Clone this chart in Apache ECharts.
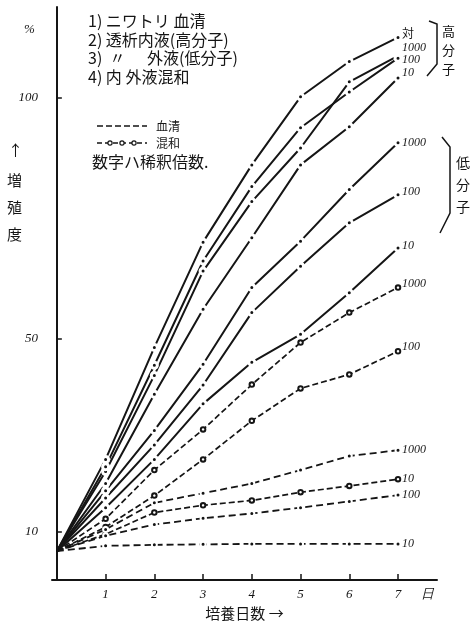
<!DOCTYPE html>
<html><head><meta charset="utf-8">
<script src="https://cdn.jsdelivr.net/npm/echarts@6/dist/echarts.min.js"></script>
<style>html,body{margin:0;padding:0;background:#fff}#c{width:473px;height:626px}</style>
</head><body><div id="c"></div>
<script>
// ---- data ----
const days = [0, 1, 2, 3, 4, 5, 6, 7];
const xTickDays = [1, 2, 3, 4, 5, 6, 7];
const dayUnit = '日';
const yTicks = [10, 50, 100];

// 透析内液 (高分子)
const highCtrl = [6, 25, 48.2, 70.0, 86.0, 100.1, 107.4, 112.4];
const high1000 = [6, 22.5, 42.4, 64.0, 78.4, 89.5, 103.2, 108.6];
const high100  = [6, 23.5, 44.5, 66.1, 81.5, 93.7, 101.1, 108.1];
const high10   = [6, 20, 38.5, 56.1, 70.9, 86.0, 93.9, 104.0];
// 外液 (低分子)
const low1000 = [6, 18.5, 31, 44.7, 60.6, 70.2, 80.9, 90.6];
const low100  = [6, 17, 28, 40.4, 55.4, 65.0, 74.0, 79.8];
const low10   = [6, 15, 25, 36.5, 45.1, 50.9, 59.5, 68.8];
// 内外液混和
const mix1000 = [6, 12.7, 22.8, 31.2, 40.5, 49.2, 55.4, 60.6];
const mix100  = [6, 11, 17.5, 25, 33, 39.7, 42.6, 47.4];
const mix10   = [6, 9.5, 14, 15.5, 16.5, 18.2, 19.5, 20.9];
// 血清
const serum1000 = [6, 10.5, 16, 18, 20, 22.8, 25.7, 26.9];
const serum100  = [6, 9.2, 11.5, 12.8, 13.8, 15.0, 16.3, 17.6];
const serum10   = [6, 7.1, 7.3, 7.4, 7.5, 7.5, 7.5, 7.5];

const endLabels = ['対', '1000', '100', '10'];

// ---- styles ----
const INK = '#151515';
const NUM_FONT = 'Liberation Serif';
const JP_FONT = 'Noto Sans CJK JP';

function toData(arr) {
  return arr.map((v, i) => i === 0 ? { value: [days[i], v], symbol: 'none' } : { value: [days[i], v] });
}
const kinds = {
  solid: {
    lineStyle: { color: INK, width: 2, type: 'solid' },
    symbol: 'circle', symbolSize: 6,
    itemStyle: { color: INK, borderColor: '#fff', borderWidth: 3 }
  },
  serum: {
    lineStyle: { color: INK, width: 1.8, type: [7, 4] },
    symbol: 'circle', symbolSize: 5,
    itemStyle: { color: INK, borderColor: '#fff', borderWidth: 2 }
  },
  mix: {
    lineStyle: { color: INK, width: 1.7, type: [6, 3] },
    symbol: 'emptyCircle', symbolSize: 4.5,
    itemStyle: { color: INK, borderColor: INK, borderWidth: 1.2 }
  }
};
function mk(name, arr, kind, label, dy) {
  const k = kinds[kind];
  return {
    name: name, type: 'line', data: toData(arr),
    lineStyle: k.lineStyle, symbol: k.symbol, symbolSize: k.symbolSize,
    itemStyle: k.itemStyle, showSymbol: true, showAllSymbol: true, z: 3,
    emphasis: { disabled: true }, silent: true,
    endLabel: {
      show: true, formatter: label, offset: [0, dy], distance: 4,
      color: INK, fontFamily: label === '対' ? JP_FONT : NUM_FONT,
      fontStyle: label === '対' ? 'normal' : 'italic', fontSize: 12
    }
  };
}

const series = [
  mk('高分子 対', highCtrl, 'solid', endLabels[0], -4),
  mk('高分子 1000', high1000, 'solid', endLabels[1], -8),
  mk('高分子 100', high100, 'solid', endLabels[2], 2),
  mk('高分子 10', high10, 'solid', endLabels[3], -5),
  mk('低分子 1000', low1000, 'solid', endLabels[1], 0),
  mk('低分子 100', low100, 'solid', endLabels[2], -3),
  mk('低分子 10', low10, 'solid', endLabels[3], -2),
  mk('混和 1000', mix1000, 'mix', endLabels[1], -4),
  mk('混和 100', mix100, 'mix', endLabels[2], -4),
  mk('混和 10', mix10, 'mix', endLabels[3], 0),
  mk('血清 1000', serum1000, 'serum', endLabels[1], 0),
  mk('血清 100', serum100, 'serum', endLabels[2], 0),
  mk('血清 10', serum10, 'serum', endLabels[3], 0)
];

function txt(x, y, text, size, extra) {
  return {
    type: 'text', x: x, y: y, silent: true,
    style: Object.assign({
      text: text, fill: INK, font: size + 'px "' + JP_FONT + '"',
      textAlign: 'left', textVerticalAlign: 'middle', align: 'left', verticalAlign: 'middle'
    }, (extra || {}))
  };
}

const graphic = [
  txt(24, 30, '%', 13, { font: 'italic 13px "' + NUM_FONT + '"' }),
  txt(8, 150, '↑', 15),
  txt(7, 180, '増', 15),
  txt(7, 207, '殖', 15),
  txt(7, 234, '度', 15),
  txt(88, 21, '1) ニワトリ 血清', 16),
  txt(88, 40, '2) 透析内液(高分子)', 16),
  txt(88, 58, '3)  〃', 16),
  txt(147, 58, '外液(低分子)', 16),
  txt(88, 77, '4) 内 外液混和', 16),
  { type: 'line', silent: true, shape: { x1: 97, y1: 126, x2: 147, y2: 126 },
    style: { stroke: INK, lineWidth: 1.7, lineDash: [6, 3] } },
  txt(156, 126, '血清', 12),
  { type: 'line', silent: true, shape: { x1: 97, y1: 143, x2: 147, y2: 143 },
    style: { stroke: INK, lineWidth: 1.6, lineDash: [5, 3] } },
  { type: 'circle', silent: true, shape: { cx: 110, cy: 143, r: 2.1 }, style: { fill: '#fff', stroke: INK, lineWidth: 1.2 } },
  { type: 'circle', silent: true, shape: { cx: 122, cy: 143, r: 2.1 }, style: { fill: '#fff', stroke: INK, lineWidth: 1.2 } },
  { type: 'circle', silent: true, shape: { cx: 134, cy: 143, r: 2.1 }, style: { fill: '#fff', stroke: INK, lineWidth: 1.2 } },
  txt(156, 143, '混和', 12),
  txt(92, 162, '数字ハ稀釈倍数.', 16),
  { type: 'polyline', silent: true, shape: { points: [[429, 21], [437, 24], [437, 64], [427, 76]] },
    style: { stroke: INK, lineWidth: 1.5, fill: null } },
  txt(442, 50, '高\n分\n子', 13, { lineHeight: 19 }),
  { type: 'polyline', silent: true, shape: { points: [[442, 137], [450, 147], [450, 213], [440, 233]] },
    style: { stroke: INK, lineWidth: 1.5, fill: null } },
  txt(456, 185, '低\n分\n子', 14, { lineHeight: 22 })
];

const chart = echarts.init(document.getElementById('c'), null, { renderer: 'canvas' });
chart.setOption({
  backgroundColor: '#fff',
  animation: false,
  grid: { left: 52, right: 36, top: 7, bottom: 43, containLabel: false },
  xAxis: {
    type: 'value', min: -0.1, max: 7.8,
    axisLine: { show: true, lineStyle: { color: INK, width: 2 } },
    axisTick: { show: true, inside: true, length: 6, customValues: xTickDays, lineStyle: { color: INK, width: 1.5 } },
    axisLabel: {
      customValues: xTickDays.concat([7.6]), margin: 8, color: INK,
      fontFamily: NUM_FONT, fontStyle: 'italic', fontSize: 13,
      formatter: v => (v > 7.5 ? dayUnit : String(v))
    },
    splitLine: { show: false },
    name: '培養日数 →', nameLocation: 'middle', nameGap: 24,
    nameTextStyle: { color: INK, fontFamily: JP_FONT, fontSize: 15 }
  },
  yAxis: {
    type: 'value', min: 0, max: 118.7,
    axisLine: { show: true, lineStyle: { color: INK, width: 2 } },
    axisTick: { show: true, inside: true, length: 5, customValues: yTicks, lineStyle: { color: INK, width: 1.5 } },
    axisLabel: {
      customValues: yTicks, margin: 14, color: INK,
      fontFamily: NUM_FONT, fontStyle: 'italic', fontSize: 13
    },
    splitLine: { show: false }
  },
  graphic: graphic,
  series: series
});
</script></body></html>
